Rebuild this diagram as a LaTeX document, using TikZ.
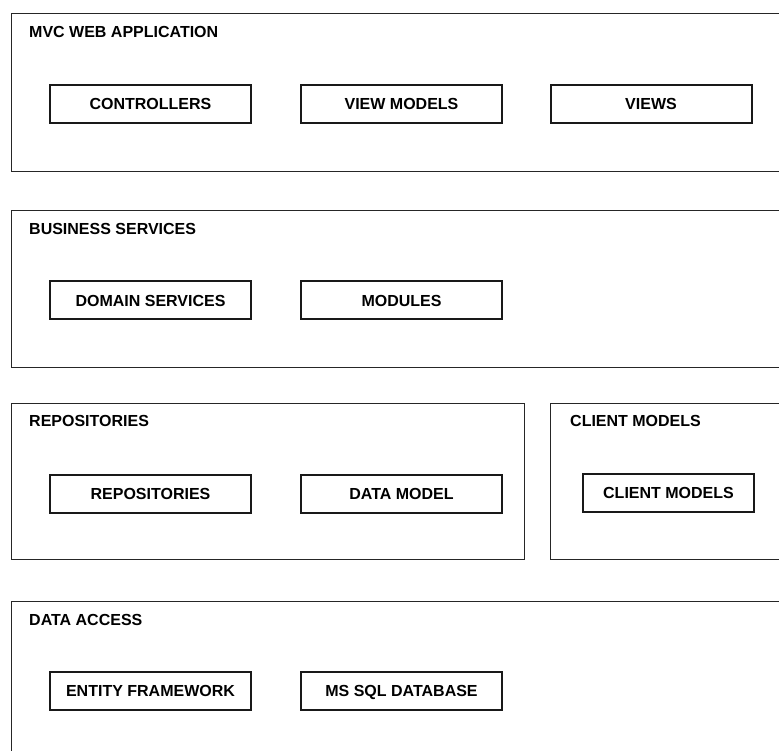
\documentclass[tikz,border=0pt]{standalone}
\usepackage{fontspec}
\setmainfont{Liberation Sans}
\begin{document}
\begin{tikzpicture}[x=1pt,y=-1pt,
  layer/.style={draw=black!85, line width=1.2pt, anchor=north west, inner sep=0pt},
  layertitle/.style={anchor=west, inner sep=0pt, text height=11.5pt, text depth=0pt,
    font=\fontsize{16}{18}\selectfont\bfseries},
  part/.style={draw=black!90, line width=2pt, minimum width=201pt, minimum height=38pt,
    inner sep=0pt, text height=11.5pt, text depth=0pt,
    font=\fontsize{16}{18}\selectfont\bfseries}]
\useasboundingbox (0,0) rectangle (779,751);
\clip (0,0) rectangle (779,751);

% MVC web application layer
\node[layer, minimum width=800pt, minimum height=158pt] (mvc) at (11,13) {};
\node[layertitle] (mvct) at (29,32) {MVC WEB APPLICATION};
\node[part] (ctrl) at (150.5,104) {CONTROLLERS};
\node[part] (vm) at (401.5,104) {VIEW MODELS};
\node[part] (views) at (651,104) {VIEWS};

% Business services layer
\node[layer, minimum width=800pt, minimum height=157pt] (bus) at (11,210) {};
\node[layertitle] (bust) at (29,229) {BUSINESS SERVICES};
\node[part] (dom) at (150.5,300.5) {DOMAIN SERVICES};
\node[part] (mod) at (401.5,300.5) {MODULES};

% Repositories layer
\node[layer, minimum width=513pt, minimum height=156pt] (repo) at (11,403) {};
\node[layertitle] (repot) at (29,421) {REPOSITORIES};
\node[part] (rep) at (150.5,493.5) {REPOSITORIES};
\node[part] (dm) at (401.5,493.5) {DATA MODEL};

% Client models layer
\node[layer, minimum width=250pt, minimum height=156pt] (cli) at (550,403) {};
\node[layertitle] (clit) at (570,421) {CLIENT MODELS};
\node[part, minimum width=171pt] (cm) at (668.5,493) {CLIENT MODELS};

% Data access layer
\node[layer, minimum width=800pt, minimum height=170pt] (da) at (11,601) {};
\node[layertitle] (dat) at (29,620) {DATA ACCESS};
\node[part] (ef) at (150.5,691) {ENTITY FRAMEWORK};
\node[part] (sql) at (401.5,691) {MS SQL DATABASE};
\end{tikzpicture}
\end{document}
